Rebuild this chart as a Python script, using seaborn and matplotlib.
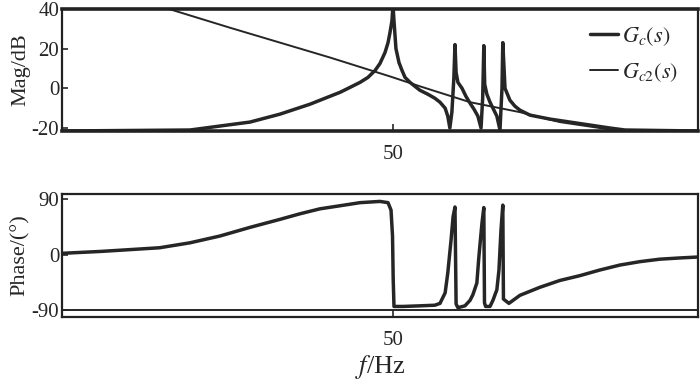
import pandas as pd
import matplotlib
matplotlib.use("Agg")
import matplotlib.pyplot as plt
import seaborn as sns
from matplotlib.ticker import NullLocator

# Values (frequency in Hz, log axis)
# Gc(s) magnitude (dB)
gc_mag_f = [0.142, 1.37, 1.79, 2.33, 3.04, 3.97, 5.18, 6.76, 8.81, 11.5, 15.0, 19.6,
            23.4, 27.9, 32.1, 36.4, 39.7, 43.4, 45.8, 47.4, 49.1, 50.0,
            50.9, 52.7, 55.6, 58.7, 61.9, 67.6, 73.8, 80.7, 92.9, 105, 115, 126, 132,
            137, 142, 147, 150, 153, 158, 170, 182, 196, 210, 225, 238, 245, 250, 254,
            264, 279, 299, 315, 333, 345, 350, 364, 397, 434, 474, 566, 807, 1150,
            1638, 2334, 3045, 11100]
gc_mag_db = [-21.5, -21, -20, -19, -18, -17, -15, -13, -10.5, -8, -5, -2,
             0.5, 3, 5.5, 9, 12.5, 18, 23, 28, 34, 42,
             34, 20, 13, 9, 5.5, 3, 1, -1, -3, -5, -7, -10, -14,
             -20, -12, 5, 22, 8, 3, 0, -4, -7.5, -10.5, -14, -20, -5, 21.5, 2,
             -3, -7, -11, -14, -21, 0, 23, 0, -6, -9, -11, -13.5, -15.5, -17,
             -18.5, -20, -21, -21.5]

# Gc2(s) magnitude (dB)
gc2_mag_f = [0.142, 0.94, 2.79, 16.4, 47.4, 80.7, 196, 474, 960, 2786, 11100]
gc2_mag_db = [40, 40, 30.5, 15.5, 6, 1, -7, -12, -17, -21.5, -21.5]

# Gc(s) phase (deg)
gc_ph_f = [0.142, 0.279, 0.474, 0.80, 1.37, 2.33, 3.97, 6.76, 9.63, 13.7, 19.6, 27.9,
           39.7, 45.8, 48.3, 49.6, 50.2, 50.9, 60.0, 80.7, 105, 115, 126, 132, 140,
           145, 150, 153, 158, 179, 196, 206, 221, 229, 242, 250, 253, 258, 279,
           294, 315, 327, 339, 350, 354, 390, 474, 675, 960, 1380, 1955, 2786,
           3970, 5650, 8060, 11100]
gc_ph_deg = [2, 5, 8, 11, 19, 30, 44, 57, 66, 74, 79, 84,
             86, 84, 72, 30, -40, -84, -84, -83, -82, -79, -62, -30, 24,
             61, 77, -80, -86, -83, -74, -65, -46, -4, 51, 76, -78, -84, -84,
             -74, -57, -25, 40, 80, -72, -79, -66, -53, -42, -34, -25, -17,
             -11.5, -7.5, -5.5, -4]

# Gc2(s) phase (deg)
gc2_ph_f = [0.142, 11100]
gc2_ph_deg = [-90, -90]

mag_ticks = [-20, 0, 20, 40]
ph_ticks = [-90, 0, 90]
f_ticks = [50]

sns.set_style("ticks")
plt.rcParams["font.family"] = ["Liberation Serif", "DejaVu Serif"]
plt.rcParams["mathtext.fontset"] = "stix"
plt.rcParams["font.size"] = 15
plt.rcParams["axes.edgecolor"] = "#222222"
plt.rcParams["xtick.direction"] = "in"
plt.rcParams["ytick.direction"] = "in"

ink = "#262626"

fig = plt.figure(figsize=(7, 3.87), dpi=100)
ax1 = fig.add_axes([0.0886, 0.6615, 0.9084, 0.3155])
ax2 = fig.add_axes([0.0886, 0.181, 0.9084, 0.3177])

df_gc = pd.DataFrame({"f": gc_mag_f, "mag": gc_mag_db})
df_gc2 = pd.DataFrame({"f": gc2_mag_f, "mag": gc2_mag_db})
sns.lineplot(data=df_gc, x="f", y="mag", ax=ax1, color=ink, lw=2.5,
             estimator=None, sort=False, label=r"$G_c(s)$")
sns.lineplot(data=df_gc2, x="f", y="mag", ax=ax1, color=ink, lw=1.4,
             estimator=None, sort=False, label=r"$G_{c2}(s)$")

df_gcp = pd.DataFrame({"f": gc_ph_f, "ph": gc_ph_deg})
df_gc2p = pd.DataFrame({"f": gc2_ph_f, "ph": gc2_ph_deg})
sns.lineplot(data=df_gcp, x="f", y="ph", ax=ax2, color=ink, lw=2.5,
             estimator=None, sort=False, legend=False)
sns.lineplot(data=df_gc2p, x="f", y="ph", ax=ax2, color=ink, lw=1.4,
             estimator=None, sort=False, legend=False)

for ax in (ax1, ax2):
    ax.set_xscale("log")
    ax.set_xlim(0.142, 11100)
    ax.set_xticks(f_ticks)
    ax.set_xticklabels([str(t) for t in f_ticks])
    ax.xaxis.set_minor_locator(NullLocator())
    ax.tick_params(axis="x", length=5, width=1.2, pad=10)
    ax.tick_params(axis="y", length=4, width=1.2, pad=2)
    for s in ax.spines.values():
        s.set_linewidth(1.6)

ax1.set_ylim(-21.5, 40)
ax1.set_yticks(mag_ticks)
ax1.set_yticklabels([str(t) for t in mag_ticks])
ax1.spines["top"].set_linewidth(2.6)
ax1.spines["bottom"].set_linewidth(2.6)
ax1.set_xlabel(None)
ax1.set_ylabel("Mag/dB", fontsize=16, labelpad=1)

ax2.set_ylim(-101, 98)
ax2.set_yticks(ph_ticks)
ax2.set_yticklabels([str(t) for t in ph_ticks])
ax2.set_ylabel("Phase/(°)", fontsize=16, labelpad=1)
ax2.set_xlabel(r"$f$/Hz", fontsize=19, labelpad=2)

ax1.legend(loc="upper right", bbox_to_anchor=(1.0, 1.03), frameon=False,
           fontsize=16, handlelength=1.3, handletextpad=0.15, labelspacing=0.6)

plt.savefig("out.png", dpi=100)
plt.close()
